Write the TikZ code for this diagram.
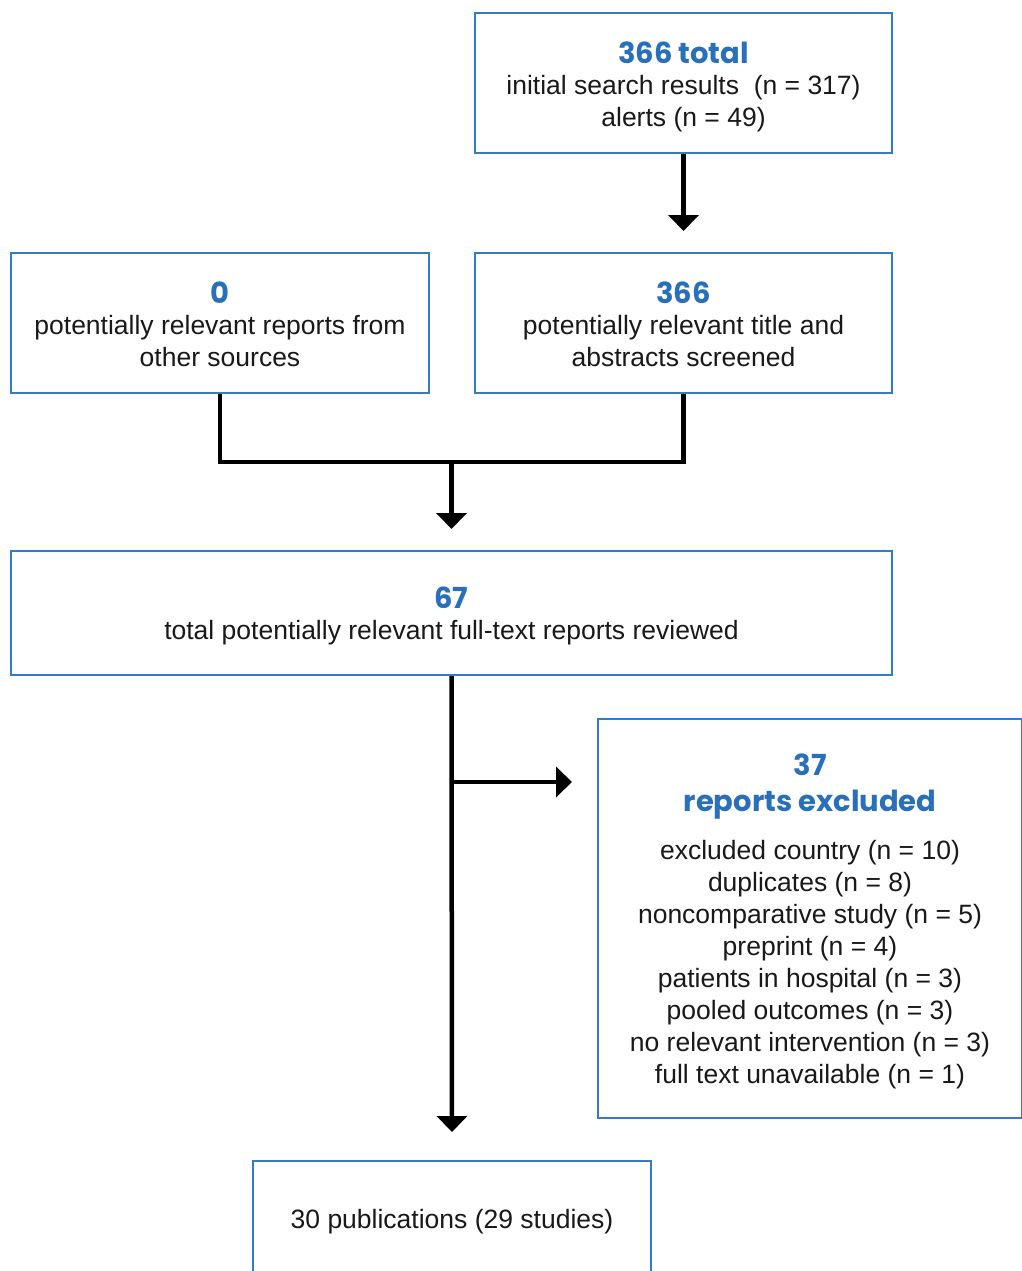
\documentclass[tikz,border=0pt]{standalone}
\usepackage{fontspec}
\setmainfont{Liberation Sans}
\newfontfamily\headfont{Poppins}
\usetikzlibrary{arrows.meta}
\definecolor{hblue}{RGB}{40,112,186}
\definecolor{bblue}{RGB}{52,124,196}
\tikzset{
  box/.style={draw=bblue, line width=2pt, inner sep=0pt, align=center,
    font=\fontsize{26.5pt}{32pt}\selectfont, text=black!90},
  conn/.style={line width=4.5pt, draw=black},
  arr/.style={conn, -{Triangle[width=30pt,length=16pt]}},
}
\newcommand{\hd}[1]{{\headfont\bfseries\fontsize{29pt}{32pt}\selectfont\color{hblue}#1}}
\newcommand{\lift}[1]{\rule{0pt}{#1}}
\begin{document}
\begin{tikzpicture}[x=1pt,y=-1pt]
\useasboundingbox (0,0) rectangle (1021,1271);
\fill[white] (0,0) rectangle (1021,1271);
\node[box, minimum width=417pt, minimum height=140pt] (top) at (683.5,83)
  {\lift{29pt}\hd{366 total}\\[-1pt] initial search results~ (n = 317)\\ alerts (n = 49)};
\node[box, minimum width=418pt, minimum height=140pt] (other) at (220,323)
  {\lift{25pt}\hd{0}\\[-1pt] potentially relevant reports from\\ other sources};
\node[box, minimum width=417pt, minimum height=140pt] (screen) at (683.5,323)
  {\lift{25pt}\hd{366}\\[-1pt] potentially relevant title and\\ abstracts screened};
\node[box, minimum width=881pt, minimum height=124pt] (full) at (451.5,613)
  {\lift{28pt}\hd{67}\\[-1pt] total potentially relevant full-text reports reviewed};
\node[box, minimum width=424pt, minimum height=399pt] (excl) at (810,918.5)
  {\lift{26.5pt}\hd{37}\\[4pt] \hd{reports excluded}\\[16pt]
   excluded country (n = 10)\\ duplicates (n = 8)\\ noncomparative study (n = 5)\\
   preprint (n = 4)\\ patients in hospital (n = 3)\\ pooled outcomes (n = 3)\\
   no relevant intervention (n = 3)\\ full text unavailable (n = 1)};
\node[box, minimum width=398pt, minimum height=116pt] (final) at (452,1219)
  {\lift{24pt}30 publications (29 studies)};
\coordinate (merge) at (451.5,462);
\coordinate (br) at (451.5,782);
\draw[arr, shorten >=21pt] (top.south) -- (screen.north);
\draw[conn] (other.south) |- (merge) -| (screen.south);
\draw[arr, shorten >=21pt] (merge) -- (full.north);
\draw[arr, shorten >=28pt] (full.south) -- (final.north);
\draw[arr, shorten >=25pt] (br) -- (br -| excl.west);
\end{tikzpicture}
\end{document}
